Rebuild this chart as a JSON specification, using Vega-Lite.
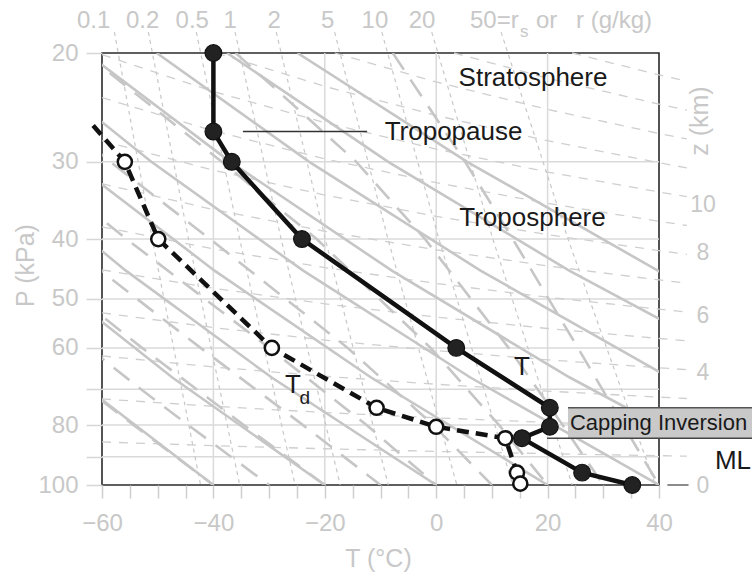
{
"$schema": "https://vega.github.io/schema/vega-lite/v6.json",
"width": 557, "height": 432,
"autosize": {"type": "none"},
"padding": {"left": 102, "top": 53, "right": 93, "bottom": 88},
"config": {"view": {"stroke": "#2a2a2a", "strokeWidth": 1.6}, "font": "Liberation Sans"},
"datasets": {
"gridT": [{"T": -40, "P": 20, "P2": 100}, {"T": -20, "P": 20, "P2": 100}, {"T": 0, "P": 20, "P2": 100}, {"T": 20, "P": 20, "P2": 100}],
"gridP": [{"P": 30, "T": -60, "T2": 40}, {"P": 40, "T": -60, "T2": 40}, {"P": 50, "T": -60, "T2": 40}, {"P": 60, "T": -60, "T2": 40}, {"P": 70, "T": -60, "T2": 40}, {"P": 80, "T": -60, "T2": 40}, {"P": 90, "T": -60, "T2": 40}],
"zl": [
{"z":1,"T":-60,"P":85.18},{"z":1,"T":-40,"P":86.36},{"z":1,"T":-20,"P":87.37},{"z":1,"T":0,"P":88.24},{"z":1,"T":20,"P":88.99},{"z":1,"T":40,"P":89.66},{"z":1,"T":45,"P":89.81},
{"z":2,"T":-60,"P":72.56},{"z":2,"T":-40,"P":74.59},{"z":2,"T":-20,"P":76.34},{"z":2,"T":0,"P":77.86},{"z":2,"T":20,"P":79.20},{"z":2,"T":40,"P":80.39},{"z":2,"T":45,"P":80.67},
{"z":3,"T":-60,"P":61.81},{"z":3,"T":-40,"P":64.42},{"z":3,"T":-20,"P":66.69},{"z":3,"T":0,"P":68.70},{"z":3,"T":20,"P":70.48},{"z":3,"T":40,"P":72.08},{"z":3,"T":45,"P":72.45},
{"z":4,"T":-60,"P":52.65},{"z":4,"T":-40,"P":55.63},{"z":4,"T":-20,"P":58.27},{"z":4,"T":0,"P":60.62},{"z":4,"T":20,"P":62.72},{"z":4,"T":40,"P":64.62},{"z":4,"T":45,"P":65.07},
{"z":5,"T":-60,"P":44.85},{"z":5,"T":-40,"P":48.05},{"z":5,"T":-20,"P":50.91},{"z":5,"T":0,"P":53.49},{"z":5,"T":20,"P":55.82},{"z":5,"T":40,"P":57.94},{"z":5,"T":45,"P":58.44},
{"z":6,"T":-60,"P":38.21},{"z":6,"T":-40,"P":41.50},{"z":6,"T":-20,"P":44.48},{"z":6,"T":0,"P":47.20},{"z":6,"T":20,"P":49.68},{"z":6,"T":40,"P":51.95},{"z":6,"T":45,"P":52.49},
{"z":7,"T":-60,"P":32.55},{"z":7,"T":-40,"P":35.84},{"z":7,"T":-20,"P":38.86},{"z":7,"T":0,"P":41.64},{"z":7,"T":20,"P":44.21},{"z":7,"T":40,"P":46.58},{"z":7,"T":45,"P":47.14},
{"z":8,"T":-60,"P":27.73},{"z":8,"T":-40,"P":30.95},{"z":8,"T":-20,"P":33.95},{"z":8,"T":0,"P":36.75},{"z":8,"T":20,"P":39.35},{"z":8,"T":40,"P":41.76},{"z":8,"T":45,"P":42.34},
{"z":9,"T":-60,"P":23.62},{"z":9,"T":-40,"P":26.73},{"z":9,"T":-20,"P":29.67},{"z":9,"T":0,"P":32.42},{"z":9,"T":20,"P":35.02},{"z":9,"T":40,"P":37.44},{"z":9,"T":45,"P":38.03},
{"z":10,"T":-60,"P":20.12},{"z":10,"T":-40,"P":23.09},{"z":10,"T":-20,"P":25.92},{"z":10,"T":0,"P":28.61},{"z":10,"T":20,"P":31.16},{"z":10,"T":40,"P":33.57},{"z":10,"T":45,"P":34.15},
{"z":11,"T":-39.5,"P":20},{"z":11,"T":-20,"P":22.65},{"z":11,"T":0,"P":25.24},{"z":11,"T":20,"P":27.73},{"z":11,"T":40,"P":30.10},{"z":11,"T":45,"P":30.68},
{"z":12,"T":-18.2,"P":20},{"z":12,"T":0,"P":22.28},{"z":12,"T":20,"P":24.68},{"z":12,"T":40,"P":26.99},{"z":12,"T":45,"P":27.55},
{"z":13,"T":3.2,"P":20},{"z":13,"T":20,"P":21.96},{"z":13,"T":40,"P":24.20},{"z":13,"T":45,"P":24.74},
{"z":14,"T":24.4,"P":20},{"z":14,"T":40,"P":21.70},{"z":14,"T":45,"P":22.22}
],
"iso": [
{"r":0.1,"P":18.5,"T":-57.77},{"r":0.1,"P":40,"T":-50.97},{"r":0.1,"P":100,"T":-42.30},
{"r":0.2,"P":18.5,"T":-51.68},{"r":0.2,"P":40,"T":-44.47},{"r":0.2,"P":100,"T":-35.28},
{"r":0.5,"P":18.5,"T":-43.07},{"r":0.5,"P":40,"T":-35.29},{"r":0.5,"P":100,"T":-25.33},
{"r":1,"P":18.5,"T":-36.11},{"r":1,"P":40,"T":-27.84},{"r":1,"P":100,"T":-17.23},
{"r":2,"P":18.5,"T":-28.72},{"r":2,"P":40,"T":-19.92},{"r":2,"P":100,"T":-8.60},
{"r":5,"P":18.5,"T":-18.24},{"r":5,"P":40,"T":-8.66},{"r":5,"P":100,"T":3.71},
{"r":10,"P":18.5,"T":-9.76},{"r":10,"P":40,"T":0.49},{"r":10,"P":100,"T":13.75},
{"r":20,"P":18.5,"T":-0.80},{"r":20,"P":40,"T":10.17},{"r":20,"P":100,"T":24.41},
{"r":50,"P":18.5,"T":11.65},{"r":50,"P":40,"T":23.67},{"r":50,"P":100,"T":39.34}
],
"dry": [
{"th":-40,"P":100,"T":-40},{"th":-40,"P":67,"T":-65.21},
{"th":-20,"P":100,"T":-20},{"th":-20,"P":67,"T":-47.37},{"th":-20,"P":45,"T":-71.64},
{"th":0,"P":100,"T":0},{"th":0,"P":67,"T":-29.53},{"th":0,"P":45,"T":-55.72},{"th":0,"P":30,"T":-79.5},
{"th":20,"P":100,"T":20},{"th":20,"P":67,"T":-11.69},{"th":20,"P":45,"T":-39.80},{"th":20,"P":30,"T":-65.32},
{"th":40,"P":100,"T":40},{"th":40,"P":67,"T":6.14},{"th":40,"P":45,"T":-23.88},{"th":40,"P":30,"T":-51.14},{"th":40,"P":20,"T":-75.42},
{"th":60,"P":100,"T":60},{"th":60,"P":67,"T":23.98},{"th":60,"P":45,"T":-7.96},{"th":60,"P":30,"T":-36.96},{"th":60,"P":20,"T":-62.79},
{"th":80,"P":67,"T":41.82},{"th":80,"P":45,"T":7.96},{"th":80,"P":30,"T":-22.79},{"th":80,"P":20,"T":-50.17},
{"th":100,"P":67,"T":59.66},{"th":100,"P":45,"T":23.88},{"th":100,"P":30,"T":-8.61},{"th":100,"P":20,"T":-37.54},
{"th":120,"P":67,"T":77.49},{"th":120,"P":45,"T":39.80},{"th":120,"P":30,"T":5.57},{"th":120,"P":20,"T":-24.91}
],
"moist": [
{"tw":-40,"P":100,"T":-40},{"tw":-40,"P":80,"T":-54.3},{"tw":-40,"P":73,"T":-60.1},
{"tw":-30,"P":100,"T":-30},{"tw":-30,"P":80,"T":-44.5},{"tw":-30,"P":70,"T":-53.0},{"tw":-30,"P":60,"T":-62.4},
{"tw":-20,"P":100,"T":-20},{"tw":-20,"P":80,"T":-34.55},{"tw":-20,"P":60,"T":-52.8},{"tw":-20,"P":50,"T":-63.9},
{"tw":-10,"P":100,"T":-10},{"tw":-10,"P":80,"T":-23.9},{"tw":-10,"P":60,"T":-42.3},{"tw":-10,"P":50,"T":-53.7},{"tw":-10,"P":45,"T":-60.2},{"tw":-10,"P":40,"T":-67},
{"tw":0,"P":100,"T":0},{"tw":0,"P":80,"T":-12.5},{"tw":0,"P":60,"T":-30.0},{"tw":0,"P":40,"T":-55.6},{"tw":0,"P":35,"T":-63.6},
{"tw":10,"P":100,"T":10},{"tw":10,"P":80,"T":-0.5},{"tw":10,"P":60,"T":-15.9},{"tw":10,"P":40,"T":-40.6},{"tw":10,"P":30,"T":-58.5},{"tw":10,"P":28,"T":-62.6},
{"tw":20,"P":100,"T":20},{"tw":20,"P":80,"T":11.3},{"tw":20,"P":60,"T":-1.0},{"tw":20,"P":40,"T":-21.45},{"tw":20,"P":30,"T":-38.5},{"tw":20,"P":21,"T":-60.2},{"tw":20,"P":20,"T":-63.1},
{"tw":30,"P":100,"T":30},{"tw":30,"P":80,"T":22.7},{"tw":30,"P":60,"T":13.0},{"tw":30,"P":40,"T":-2.0},{"tw":30,"P":30,"T":-14.35},{"tw":30,"P":20,"T":-36.0},
{"tw":40,"P":100,"T":40},{"tw":40,"P":80,"T":33.6},{"tw":40,"P":60,"T":25.45},{"tw":40,"P":40,"T":13.75},{"tw":40,"P":30,"T":5.2},{"tw":40,"P":20,"T":-7.8}
],
"toplab": [
{"lab":"0.1","T":-61.5,"P":17.75},{"lab":"0.2","T":-52.7,"P":17.75},{"lab":"0.5","T":-43.8,"P":17.75},{"lab":"1","T":-37.0,"P":17.75},{"lab":"2","T":-29.1,"P":17.75},{"lab":"5","T":-19.5,"P":17.75},{"lab":"10","T":-11.0,"P":17.75},{"lab":"20","T":-2.55,"P":17.75}
],
"toplabL": [{"lab":"50=r","T":6.07,"P":17.75},{"lab":"or","T":17.92,"P":17.75},{"lab":"r (g/kg)","T":25.1,"P":17.75}],
"sub": [{"lab":"s","T":15.8,"P":18.5}],
"zlab": [
{"lab":"10","T":47.9,"P":35.25},{"lab":"8","T":47.9,"P":42.1},{"lab":"6","T":47.9,"P":53.3},{"lab":"4","T":47.9,"P":65.9},{"lab":"0","T":47.9,"P":100.4}
],
"ztitle": [{"lab":"z (km)","T":47.36,"P":25.77}],
"tropo": [{"T":-34.7,"T2":-12.4,"P":26.8}],
"box": [{"T":23.66,"T2":62,"P":75,"P2":84}],
"boxTop": [{"T":23.66,"T2":62,"P":75}],
"boxBot": [{"T":19.9,"T2":62,"P":84}],
"mlLine": [{"T":41.5,"T2":45.3,"P":100}],
"Tsnd": [
{"T":-40,"P":20},{"T":-40,"P":26.8},{"T":-36.7,"P":30},{"T":-24.1,"P":40},{"T":3.6,"P":60},{"T":20.4,"P":75},{"T":20.4,"P":80.5},{"T":15.4,"P":84},{"T":26.2,"P":95.5},{"T":35.2,"P":100}
],
"Tdsnd": [
{"T":-61.6,"P":26.2},{"T":-55.9,"P":30},{"T":-49.9,"P":40},{"T":-29.5,"P":60},{"T":-10.7,"P":75},{"T":0,"P":80.5},{"T":12.4,"P":84},{"T":14.5,"P":95.5},{"T":15.1,"P":99.5}
],
"ann": [
{"lab":"Stratosphere","T":17.38,"P":21.95},
{"lab":"Tropopause","T":3.11,"P":26.8},
{"lab":"Troposphere","T":17.29,"P":36.97},
{"lab":"T","T":15.4,"P":64.4},
{"lab":"T","T":-25.7,"P":68.9},
{"lab":"ML","T":53.29,"P":91.4}
],
"annSub": [{"lab":"d","T":-23.6,"P":72.3}],
"cap": [{"lab":"Capping Inversion","T":24.0,"P":79.3}]
},
"encoding": {
"x": {"field": "T", "type": "quantitative", "scale": {"domain": [-60, 40], "nice": false, "zero": false},
 "axis": {"values": [-60,-55,-50,-45,-40,-35,-30,-25,-20,-15,-10,-5,0,5,10,15,20,25,30,35,40],
  "labelExpr": "datum.value % 20 === 0 ? datum.label : ''", "grid": false, "domain": false,
  "tickSize": 13, "tickColor": "#cfcfcf", "tickWidth": 1.5, "labelPadding": 25, "labelBaseline": "middle",
  "labelFontSize": 24, "labelColor": "#c8c8c8", "labelFont": "Liberation Sans", "labelFlush": false,
  "title": "T (°C)", "titleFontSize": 25, "titleFontWeight": "normal", "titleColor": "#c8c8c8", "titleFont": "Liberation Sans",
  "titleX": 276, "titleY": 73, "titleBaseline": "middle", "titleAlign": "center"}},
"y": {"field": "P", "type": "quantitative", "scale": {"type": "log", "domain": [20, 100], "reverse": true, "nice": false},
 "axis": {"values": [20,30,40,50,60,70,80,90,100], "format": "d",
  "labelExpr": "datum.value == 70 || datum.value == 90 ? '' : datum.label", "grid": false, "domain": false,
  "tickSize": 16, "tickColor": "#d6d6d6", "tickWidth": 1.5, "labelPadding": 8,
  "labelFontSize": 24, "labelColor": "#c8c8c8", "labelFont": "Liberation Sans",
  "title": "P (kPa)", "titleFontSize": 25, "titleFontWeight": "normal", "titleColor": "#c8c8c8", "titleFont": "Liberation Sans",
  "titleX": -77, "titleY": 212, "titleAngle": -90, "titleBaseline": "middle", "titleAlign": "center"}}
},
"layer": [
{"data": {"name": "gridT"}, "mark": {"type": "rule", "color": "#dadada", "strokeWidth": 1.5},
 "encoding": {"y2": {"field": "P2"}}},
{"data": {"name": "gridP"}, "mark": {"type": "rule", "color": "#dadada", "strokeWidth": 1.5},
 "encoding": {"x2": {"field": "T2"}}},
{"data": {"name": "zl"}, "mark": {"type": "line", "color": "#cfcfcf", "strokeWidth": 1.3, "strokeDash": [9, 8]},
 "encoding": {"detail": {"field": "z"}}},
{"data": {"name": "iso"}, "mark": {"type": "line", "color": "#c8c8c8", "strokeWidth": 1.2, "strokeDash": [4, 4]},
 "encoding": {"detail": {"field": "r"}, "order": {"field": "P"}}},
{"data": {"name": "dry"}, "mark": {"type": "line", "color": "#c6c6c6", "strokeWidth": 2.6, "clip": true},
 "encoding": {"detail": {"field": "th"}, "order": {"field": "P"}}},
{"data": {"name": "moist"}, "mark": {"type": "line", "color": "#c6c6c6", "strokeWidth": 2.6, "strokeDash": [20, 12], "clip": true},
 "encoding": {"detail": {"field": "tw"}, "order": {"field": "P"}}},
{"data": {"name": "toplab"}, "mark": {"type": "text", "fontSize": 24, "color": "#c8c8c8", "baseline": "middle", "align": "center"},
 "encoding": {"text": {"field": "lab"}}},
{"data": {"name": "toplabL"}, "mark": {"type": "text", "fontSize": 24, "color": "#c8c8c8", "baseline": "middle", "align": "left"},
 "encoding": {"text": {"field": "lab"}}},
{"data": {"name": "sub"}, "mark": {"type": "text", "fontSize": 17, "color": "#c8c8c8", "baseline": "middle", "align": "center"},
 "encoding": {"text": {"field": "lab"}}},
{"data": {"name": "zlab"}, "mark": {"type": "text", "fontSize": 23, "color": "#c8c8c8", "baseline": "middle", "align": "center"},
 "encoding": {"text": {"field": "lab"}}},
{"data": {"name": "ztitle"}, "mark": {"type": "text", "fontSize": 25, "color": "#c8c8c8", "baseline": "middle", "align": "center", "angle": -90},
 "encoding": {"text": {"field": "lab"}}},
{"data": {"name": "tropo"}, "mark": {"type": "rule", "color": "#333333", "strokeWidth": 1.5},
 "encoding": {"x2": {"field": "T2"}}},
{"data": {"name": "box"}, "mark": {"type": "rect", "color": "#c9c9c9", "opacity": 1},
 "encoding": {"x2": {"field": "T2"}, "y2": {"field": "P2"}}},
{"data": {"name": "boxTop"}, "mark": {"type": "rule", "color": "#555555", "strokeWidth": 1.5},
 "encoding": {"x2": {"field": "T2"}}},
{"data": {"name": "boxBot"}, "mark": {"type": "rule", "color": "#444444", "strokeWidth": 1.5},
 "encoding": {"x2": {"field": "T2"}}},
{"data": {"name": "mlLine"}, "mark": {"type": "rule", "color": "#666666", "strokeWidth": 1.5},
 "encoding": {"x2": {"field": "T2"}}},
{"data": {"name": "Tdsnd"}, "mark": {"type": "line", "color": "#111111", "strokeWidth": 4.5, "strokeDash": [12, 7]},
 "encoding": {"order": {"field": "P"}}},
{"data": {"name": "Tsnd"}, "mark": {"type": "line", "color": "#111111", "strokeWidth": 4.5},
 "encoding": {"order": {"field": "P"}}},
{"data": {"name": "Tdsnd"}, "transform": [{"filter": "datum.P > 28"}],
 "mark": {"type": "point", "shape": "circle", "size": 200, "filled": false, "fill": "white", "fillOpacity": 1, "stroke": "#111111", "strokeWidth": 2.5, "opacity": 1}},
{"data": {"name": "Tsnd"}, "mark": {"type": "point", "shape": "circle", "size": 280, "filled": true, "color": "#222222", "stroke": "#111111", "strokeWidth": 1.2, "opacity": 1}},
{"data": {"name": "ann"}, "mark": {"type": "text", "fontSize": 26, "color": "#1a1a1a", "baseline": "middle", "align": "center"},
 "encoding": {"text": {"field": "lab"}}},
{"data": {"name": "annSub"}, "mark": {"type": "text", "fontSize": 19, "color": "#1a1a1a", "baseline": "middle", "align": "center"},
 "encoding": {"text": {"field": "lab"}}},
{"data": {"name": "cap"}, "mark": {"type": "text", "fontSize": 22, "color": "#1a1a1a", "baseline": "middle", "align": "left"},
 "encoding": {"text": {"field": "lab"}}}
]
}
